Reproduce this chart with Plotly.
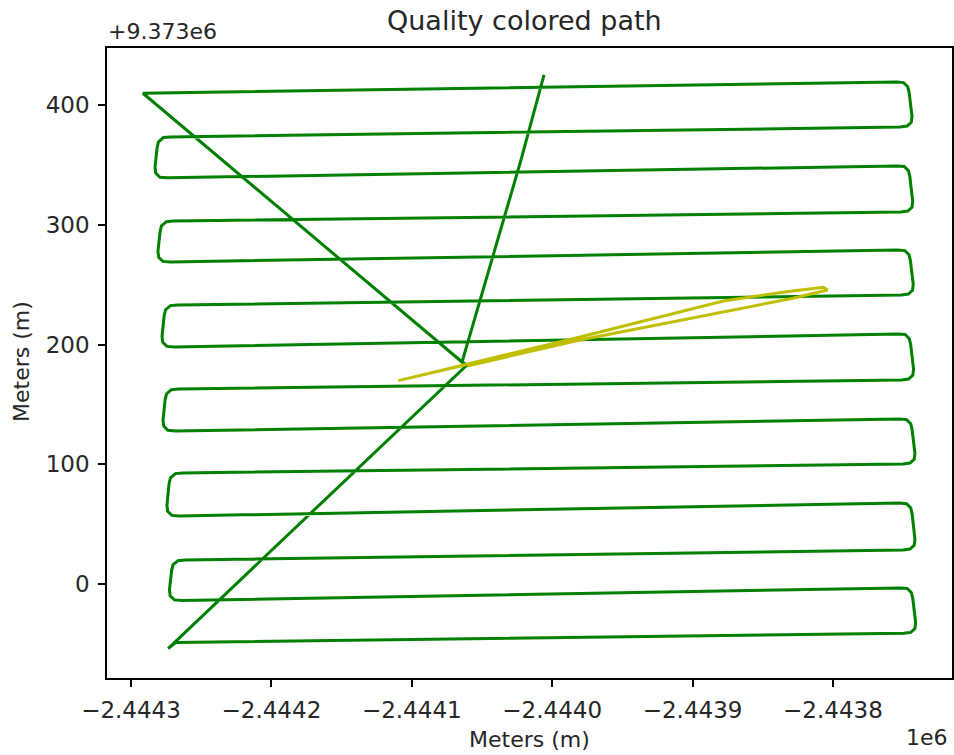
import plotly.graph_objects as go

# ---- data (metres) ----
good_x = [
    -2444005.8, -2444022.2, -2444064.2, -2444060.7, -2444273.6, -2444267.9,
    -2443749.6, -2443744.6, -2443741.6, -2443741.1, -2443743.1, -2443744.1, -2443747.1, -2443752.1,
    -2444263.6, -2444269.1, -2444272.1, -2444272.6, -2444271.1, -2444270.1, -2444266.6, -2444261.6,
    -2443750.1, -2443745.1, -2443742.1, -2443741.6, -2443743.6, -2443744.6, -2443747.6, -2443752.6,
    -2444265.4, -2444270.9, -2444273.9, -2444274.4, -2444272.9, -2444271.9, -2444268.4, -2444263.4,
    -2443750.1, -2443745.1, -2443742.1, -2443741.6, -2443743.6, -2443744.6, -2443747.6, -2443752.6,
    -2444268.2, -2444273.7, -2444276.7, -2444277.2, -2444275.7, -2444274.7, -2444271.2, -2444266.2,
    -2443751.1, -2443746.1, -2443743.1, -2443742.6, -2443744.6, -2443745.6, -2443748.6, -2443753.6,
    -2444268.9, -2444274.4, -2444277.4, -2444277.9, -2444276.4, -2444275.4, -2444271.9, -2444266.9,
    -2443751.3, -2443746.3, -2443743.3, -2443742.8, -2443744.8, -2443745.8, -2443748.8, -2443753.8,
    -2444271.8, -2444277.3, -2444280.3, -2444280.8, -2444279.3, -2444278.3, -2444274.8, -2444269.8,
    -2443751.7, -2443746.7, -2443743.7, -2443743.2, -2443745.2, -2443746.2, -2443749.2, -2443754.2,
    -2444273.9, -2444279.4, -2444282.4, -2444282.9, -2444281.4, -2444280.4, -2444276.9, -2444271.9,
    -2443752.2, -2443747.2, -2443744.2, -2443743.7, -2443745.7, -2443746.7, -2443749.7, -2443754.7,
    -2444291.5, -2444064.2,
]
good_y = [
    9373425.1, 9373354.1, 9373185.4, 9373182.9, 9372946.1, 9372951.2,
    9372958.8, 9372959.6, 9372962.8, 9372967.8, 9372987.7, 9372992.7, 9372996.2, 9372996.7,
    9372986.2, 9372986.7, 9372990.2, 9372995.2, 9373011.0, 9373016.0, 9373019.5, 9373020.0,
    9373028.4, 9373029.2, 9373032.4, 9373037.4, 9373058.6, 9373063.6, 9373067.1, 9373067.6,
    9373056.8, 9373057.3, 9373060.8, 9373065.8, 9373083.7, 9373088.7, 9373092.2, 9373092.7,
    9373100.2, 9373101.0, 9373104.2, 9373109.2, 9373128.8, 9373133.8, 9373137.3, 9373137.8,
    9373127.8, 9373128.3, 9373131.8, 9373136.8, 9373153.8, 9373158.8, 9373162.3, 9373162.8,
    9373170.4, 9373171.2, 9373174.4, 9373179.4, 9373199.8, 9373204.8, 9373208.3, 9373208.8,
    9373197.9, 9373198.4, 9373201.9, 9373206.9, 9373224.0, 9373229.0, 9373232.5, 9373233.0,
    9373241.3, 9373242.1, 9373245.3, 9373250.3, 9373269.9, 9373274.9, 9373278.4, 9373278.9,
    9373268.9, 9373269.4, 9373272.9, 9373277.9, 9373294.1, 9373299.1, 9373302.6, 9373303.1,
    9373310.6, 9373311.4, 9373314.6, 9373319.6, 9373340.1, 9373345.1, 9373348.6, 9373349.1,
    9373339.2, 9373339.7, 9373343.2, 9373348.2, 9373364.3, 9373369.3, 9373372.8, 9373373.3,
    9373381.6, 9373382.4, 9373385.6, 9373390.6, 9373410.2, 9373415.2, 9373418.7, 9373419.2,
    9373409.8, 9373185.4,
]
float_x = [-2444062.1, -2444109.6, -2443980.2, -2443878.1, -2443833.0, -2443806.9,
           -2443803.9, -2443828.5, -2443980.2, -2444060.7]
float_y = [9373182.9, 9373169.8, 9373206.3, 9373236.3, 9373244.1, 9373247.8,
           9373245.5, 9373238.6, 9373203.8, 9373182.0]

x_tickvals = [-2444300, -2444200, -2444100, -2444000, -2443900, -2443800]
x_ticktext = ["\u22122.4443", "\u22122.4442", "\u22122.4441", "\u22122.4440", "\u22122.4439", "\u22122.4438"]
y_tickvals = [9373000, 9373100, 9373200, 9373300, 9373400]
y_ticktext = ["0", "100", "200", "300", "400"]

FONT = "DejaVu Sans"
TXT = "#262626"

fig = go.Figure()
fig.add_trace(go.Scatter(x=good_x, y=good_y, mode="lines",
                         line=dict(color="#008000", width=3), showlegend=False))
fig.add_trace(go.Scatter(x=float_x, y=float_y, mode="lines",
                         line=dict(color="#bfbf00", width=3), showlegend=False))

W, H = 954, 755
L, R, T, B = 107, 2, 48, 77
pw, ph = W - L - R, H - T - B

def px(xp):
    return (xp - L) / pw

def py(yp):
    return (H - B - yp) / ph

axis_common = dict(showgrid=False, zeroline=False, showline=True, mirror=True,
                   linecolor="black", linewidth=1.5, ticks="outside", ticklen=7,
                   tickwidth=1.5, tickcolor="black", automargin=False,
                   tickfont=dict(family=FONT, size=23, color=TXT))

fig.update_layout(
    width=W, height=H,
    margin=dict(l=L, r=R, t=T, b=B, autoexpand=False),
    plot_bgcolor="white", paper_bgcolor="white",
    xaxis=dict(range=[-2444317.1, -2443715.2], tickvals=x_tickvals, ticktext=x_ticktext,
               ticklabelstandoff=4, **axis_common),
    yaxis=dict(range=[9372921.5, 9373447.6], tickvals=y_tickvals, ticktext=y_ticktext,
               ticklabelstandoff=4, **axis_common),
    annotations=[
        dict(text="Quality colored path", x=px(524), y=py(21), xref="paper", yref="paper",
             xanchor="center", yanchor="middle", showarrow=False,
             font=dict(family=FONT, size=27, color=TXT)),
        dict(text="+9.373e6", x=px(106), y=py(31), xref="paper", yref="paper",
             xanchor="left", yanchor="middle", showarrow=False,
             font=dict(family=FONT, size=22, color=TXT)),
        dict(text="1e6", x=px(950), y=py(737), xref="paper", yref="paper",
             xanchor="right", yanchor="middle", showarrow=False,
             font=dict(family=FONT, size=22, color=TXT)),
        dict(text="Meters (m)", x=px(529), y=py(739), xref="paper", yref="paper",
             xanchor="center", yanchor="middle", showarrow=False,
             font=dict(family=FONT, size=22, color=TXT)),
        dict(text="Meters (m)", x=px(21), y=py(362), xref="paper", yref="paper",
             xanchor="center", yanchor="middle", textangle=-90, showarrow=False,
             font=dict(family=FONT, size=22, color=TXT)),
    ],
)

fig.write_html(
    "out.html",
    config={"responsive": False, "displayModeBar": False},
    post_script="document.body.style.margin='0';document.body.style.overflow='hidden';",
)
